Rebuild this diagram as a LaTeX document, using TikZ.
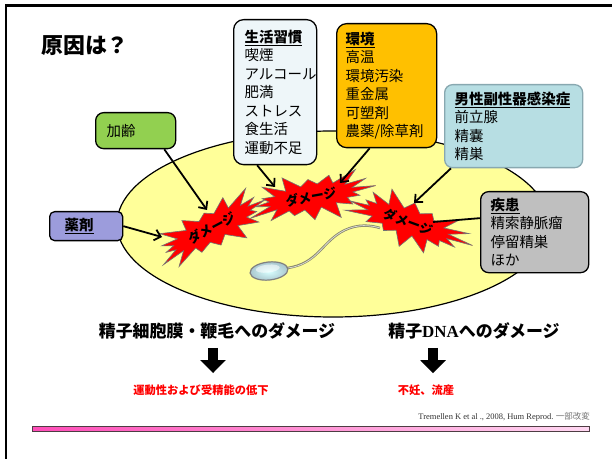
\documentclass[tikz,border=0pt]{standalone}
\usepackage{fontspec}
\setmainfont{Noto Sans CJK JP}
\newfontfamily\latinserif{Liberation Serif}
\usetikzlibrary{shapes.geometric, arrows.meta, calc}

\definecolor{yolk}{HTML}{FFFF99}
\definecolor{agegreen}{HTML}{92D050}
\definecolor{lifeblue}{HTML}{EEF6F9}
\definecolor{envorange}{HTML}{FFC000}
\definecolor{infectteal}{HTML}{B7DEE3}
\definecolor{infectedge}{HTML}{88A8B0}
\definecolor{drugviolet}{HTML}{9C9CDC}
\definecolor{diseasegray}{HTML}{BFBFBF}
\definecolor{barpink}{HTML}{FF4DB8}
\definecolor{barlight}{HTML}{FFD8F2}
\definecolor{tailolive}{HTML}{85856A}
\definecolor{headblue}{HTML}{A9C6CE}

\begin{document}
\begin{tikzpicture}[x=1bp, y=-1bp, >={Straight Barb[length=6bp,width=11bp]},
    cause/.style={draw, line width=1.3bp, rounded corners=8bp, anchor=north west,
        align=left, inner ysep=0pt, font=\fontsize{14.5}{18.5}\selectfont},
    burstfill/.style={draw=black!55, fill=red, line width=0.6bp, line join=miter},
    dmgtext/.style={inner sep=0pt, font=\bfseries\fontsize{13}{13}\selectfont},
    link/.style={->, line width=1.8bp},
    result/.style={font=\bfseries\fontsize{17}{17}\selectfont},
    effect/.style={text=red, font=\bfseries\fontsize{11.3}{11.3}\selectfont},
    down/.style={line width=10bp, -{Triangle[length=13bp,width=25bp]}}]
    \useasboundingbox (0,0) rectangle (612,459);

    % frame
    \draw[line width=2.4bp] (6.2,459) -- (6.2,5.6) -- (612,5.6);

    % cell field
    \node[ellipse, draw, fill=yolk, line width=1.2bp, minimum width=432bp,
        minimum height=186bp, inner sep=0pt] (zone) at (333,224) {};

    % sperm
    \draw[tailolive, line width=2.4bp] (287,268) .. controls (318,264) and (322,241) .. (345,230)
        .. controls (358,224) and (370,225) .. (380,228);
    \draw[white!70!tailolive, line width=0.8bp] (288,268) .. controls (318,264) and (322,241) .. (345,230)
        .. controls (358,224) and (370,225) .. (380,228);
    \draw[black!50, line width=1.2bp, inner color=white!85!cyan, outer color=headblue,
        rotate around={6:(269,271)}] (269,271) ellipse [x radius=19, y radius=9];
    \fill[white, opacity=0.55, rotate around={6:(269,271)}] (268,268.5) ellipse [x radius=12, y radius=4];

    % damage bursts: spiky outline around a flat body
    \foreach \bx/\by/\rot/\phs in {212/228/28/0, 311/197/10/40, 408/222/-20/75} {
        \filldraw[burstfill, shift={(\bx,\by)}, rotate=\rot]
            plot[variable=\k, samples at={0,...,31}]
            ({(43 + (1-mod(\k,2))*(17+9*sin(131*\k+\phs)))*cos(\k*11.25)},
             {(12 + 0.6*(1-mod(\k,2))*(17+9*sin(131*\k+\phs)))*sin(\k*11.25)}) -- cycle;
    }
    \node[dmgtext, rotate=28] (dmgL) at (212,228) {ダメージ};
    \node[dmgtext, rotate=10] (dmgM) at (311,197) {ダメージ};
    \node[dmgtext, rotate=-20] (dmgR) at (408,222) {ダメージ};

    % causes
    \node[cause, fill=agegreen, minimum width=80bp, minimum height=36bp, text width=58bp, inner xsep=11bp] (age) at (95,112) {加齢};
    \node[cause, fill=lifeblue, rounded corners=10bp, minimum width=83bp, minimum height=145bp,
        text width=61bp, inner xsep=11bp] (life) at (233,19)
        {\underline{\textbf{生活習慣}}\\喫煙\\アルコール\\肥満\\ストレス\\食生活\\運動不足};
    \node[cause, fill=envorange, rounded corners=10bp, minimum width=100bp, minimum height=124bp,
        text width=82bp, inner xsep=9bp] (env) at (336,23)
        {\underline{\textbf{環境}}\\高温\\環境汚染\\重金属\\可塑剤\\農薬/除草剤};
    \node[cause, draw=infectedge, fill=infectteal, minimum width=138bp, minimum height=83bp,
        text width=118bp, inner xsep=10bp] (infect) at (444,84)
        {\underline{\textbf{男性副性器感染症}}\\前立腺\\精嚢\\精巣};
    \node[cause, fill=drugviolet, rounded corners=5bp, minimum width=73bp, minimum height=29bp,
        text width=43bp, inner xsep=15bp] (drug) at (49,211) {\underline{\textbf{薬剤}}};
    \node[cause, fill=diseasegray, minimum width=108bp, minimum height=81bp,
        text width=88bp, inner xsep=10bp] (disease) at (480,191)
        {\underline{\textbf{疾患}}\\精索静脈瘤\\停留精巣\\ほか};

    \draw[link] ([xshift=-12bp]age.south east) -- ($(dmgL.center)+(-5,-18)$);
    \draw[link] (drug.east) -- ($(dmgL.center)+(-50,9)$);
    \draw[link] ([xshift=-18bp]life.south) -- ($(dmgM.center)+(-36,-10)$);
    \draw[link] ([xshift=-17bp]env.south) -- ($(dmgM.center)+(29,-14)$);
    \draw[link] ([xshift=7bp]infect.south west) -- ($(dmgR.center)+(6,-19)$);
    \draw[line width=1.8bp] ([yshift=14bp]disease.west) -- ($(dmgR.center)+(25,0)$);

    \node[font=\bfseries\fontsize{22}{22}\selectfont] (title) at (85,46) {原因は？};

    % consequences
    \node[result] (memb) at (217,331) {精子細胞膜・鞭毛へのダメージ};
    \node[result] (dna) at (474,331) {精子{\latinserif DNA}へのダメージ};
    \node[effect] (motil) at (201,390) {運動性および受精能の低下};
    \node[effect] (infert) at (426,390) {不妊、流産};
    \draw[down] ($(motil.north |- memb.south)+(12,5)$) -- ($(motil.north)+(12,-8)$);
    \draw[down] ($(infert.north |- dna.south)+(7,5)$) -- ($(infert.north)+(7,-8)$);

    \node[anchor=south east, inner sep=0pt, font=\fontsize{8.5}{8.5}\selectfont, text=black!80] (cite) at (590,422)
        {{\latinserif Tremellen K et al ., 2008, Hum Reprod.} {\color{black!55}一部改変}};
    \node[draw=black!80!magenta, line width=1bp, left color=barpink, right color=barlight,
        minimum width=557bp, minimum height=5.7bp, inner sep=0pt, anchor=west] (bar) at (32.3,429) {};
\end{tikzpicture}
\end{document}
